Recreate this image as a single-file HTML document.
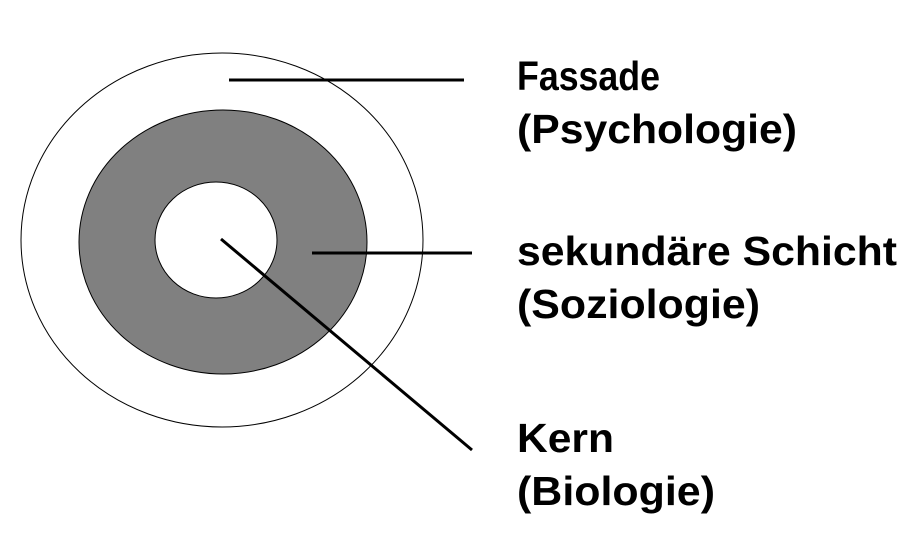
<!DOCTYPE html>
<html><head><meta charset="utf-8"><style>html,body{margin:0;padding:0;background:#fff}svg{display:block}</style></head>
<body>
<svg width="923" height="552" viewBox="0 0 923 552" xmlns="http://www.w3.org/2000/svg">
<rect width="923" height="552" fill="#fff"/>
<ellipse cx="222" cy="240" rx="201" ry="187" fill="#fff" stroke="#000" stroke-width="1"/>
<ellipse cx="223" cy="242" rx="144" ry="132" fill="#808080" stroke="#000" stroke-width="1"/>
<ellipse cx="216" cy="240" rx="61" ry="58" fill="#fff" stroke="#000" stroke-width="1"/>
<line x1="229" y1="80" x2="464" y2="80" stroke="#000" stroke-width="3"/>
<line x1="312" y1="253" x2="472" y2="253" stroke="#000" stroke-width="3"/>
<line x1="221" y1="239" x2="472" y2="450" stroke="#000" stroke-width="3"/>
<g font-family="Liberation Sans, sans-serif" font-weight="bold" font-size="41" fill="#000">
<text x="517" y="90" textLength="143" lengthAdjust="spacingAndGlyphs">Fassade</text>
<text x="517" y="143" textLength="280" lengthAdjust="spacingAndGlyphs">(Psychologie)</text>
<text x="517" y="265" textLength="380" lengthAdjust="spacingAndGlyphs">sekundäre Schicht</text>
<text x="517" y="318" textLength="243" lengthAdjust="spacingAndGlyphs">(Soziologie)</text>
<text x="517" y="452" textLength="97" lengthAdjust="spacingAndGlyphs">Kern</text>
<text x="517" y="505" textLength="198" lengthAdjust="spacingAndGlyphs">(Biologie)</text>
</g>
</svg>
</body></html>
